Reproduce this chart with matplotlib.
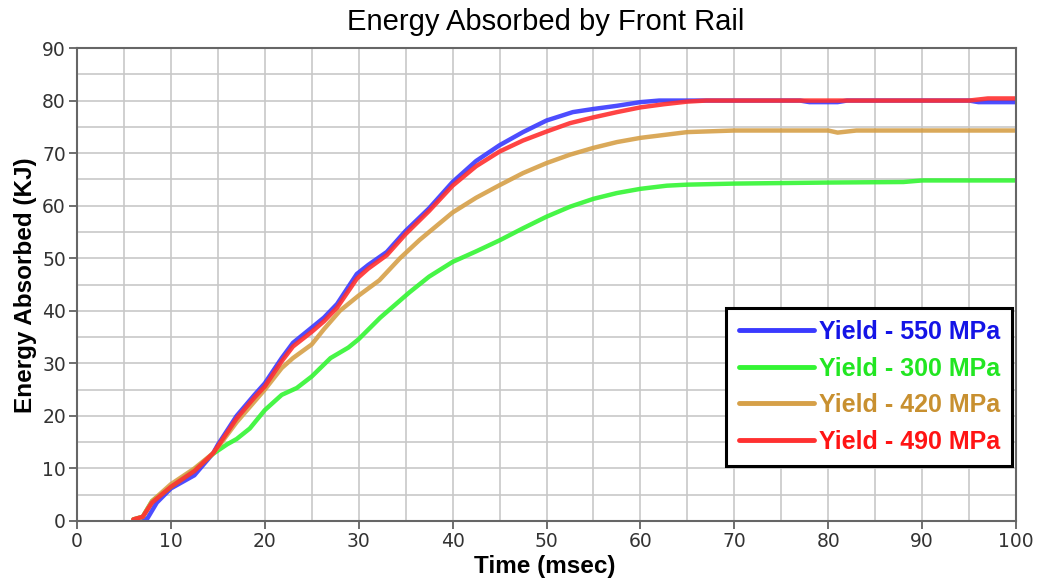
import matplotlib
matplotlib.use("Agg")
import matplotlib.pyplot as plt
from matplotlib.ticker import MultipleLocator

# ---- data ----
t_550 = [7, 7.5, 8.5, 10, 12.5, 14.5, 15, 17, 18.9, 20, 21.8, 23, 25, 26.3, 27.7, 29.8, 31, 33, 35, 37.5, 40, 42.5, 45, 47.5, 50, 52.8, 55, 57.5, 60, 62, 77, 78, 81, 82, 95, 96, 100]
e_550 = [0, 0.5, 3.5, 6.2, 8.7, 12.9, 14.5, 20, 24, 26.2, 31, 33.9, 36.8, 38.7, 41.3, 47, 48.7, 51.2, 55.2, 59.5, 64.5, 68.5, 71.5, 74, 76.2, 77.8, 78.4, 79, 79.7, 80, 80, 79.7, 79.7, 80, 80, 79.7, 79.7]

t_300 = [6, 7, 8, 10, 12.5, 14.5, 16, 17, 18.4, 20, 21.8, 23.4, 25, 27, 28.9, 30, 32.3, 35.4, 37.5, 40, 42.5, 45, 47.5, 50, 52.5, 55, 57.5, 60, 62.8, 65, 70, 80, 88, 90, 100]
e_300 = [0.3, 0.8, 3.8, 6.5, 9.8, 12.8, 14.6, 15.6, 17.6, 21.1, 24, 25.3, 27.5, 31, 33, 34.6, 38.7, 43.5, 46.5, 49.3, 51.3, 53.4, 55.7, 57.9, 59.8, 61.3, 62.4, 63.2, 63.8, 64.0, 64.2, 64.4, 64.5, 64.8, 64.8]

t_420 = [6, 7, 8, 10, 12.5, 14.5, 15, 17, 20, 21.8, 23, 25, 26.3, 28, 30, 32.2, 34.4, 36.5, 40, 42.5, 45, 47.5, 50, 52.5, 55, 57.5, 60, 65, 70, 80, 81, 83, 100]
e_420 = [0.3, 0.8, 3.8, 7, 10, 12.9, 14, 18.8, 25, 29.1, 31, 33.6, 36.5, 40, 42.9, 45.8, 50, 53.5, 58.7, 61.5, 63.9, 66.2, 68.1, 69.7, 71, 72.1, 72.9, 74.0, 74.3, 74.3, 73.9, 74.3, 74.3]

t_490 = [6, 7, 8, 10, 12.5, 14.5, 15, 17, 18.9, 20, 21.8, 23, 25, 26.3, 27.7, 29.8, 31, 33, 35, 37.5, 40, 42.5, 45, 47.5, 50, 52.5, 55, 57.5, 60, 62.5, 65, 67, 95, 97, 100]
e_490 = [0.3, 0.8, 3.5, 6.5, 9.5, 12.9, 14.2, 19.5, 23.5, 25.6, 30.4, 33.2, 36, 38, 40.6, 46.1, 48, 50.6, 54.6, 59, 63.8, 67.5, 70.3, 72.4, 74.1, 75.7, 76.8, 77.8, 78.7, 79.3, 79.8, 80, 80, 80.4, 80.4]

labels = ["Yield - 550 MPa", "Yield - 300 MPa", "Yield - 420 MPa", "Yield - 490 MPa"]
line_colors = ["#3a3aff", "#33f533", "#d6a048", "#ff3030"]
text_colors = ["#1414e6", "#22e622", "#c89030", "#ff1414"]

fig = plt.figure(figsize=(10.45, 5.8), dpi=100)
ax = fig.add_axes([77/1045, 1 - 521/580, (1016-77)/1045, (521-48)/580])

series = [(t_550, e_550), (t_300, e_300), (t_420, e_420), (t_490, e_490)]
handles = []
for (t, e), c, lab in zip(series, line_colors, labels):
    h, = ax.plot(t, e, color=c, lw=3.2, label=lab, solid_capstyle="round",
                 solid_joinstyle="round", alpha=0.9)
    handles.append(h)

ax.set_xlim(0, 100)
ax.set_ylim(0, 90)
ax.xaxis.set_major_locator(MultipleLocator(10))
ax.yaxis.set_major_locator(MultipleLocator(10))
ax.xaxis.set_minor_locator(MultipleLocator(5))
ax.yaxis.set_minor_locator(MultipleLocator(5))
ax.grid(True, which="both", color="#c8c8c8", lw=1.2)
ax.set_axisbelow(True)
ax.tick_params(which="major", direction="out", length=6, width=1.2, color="#555555",
               labelsize=13.5, labelcolor="#333333", pad=2)
ax.tick_params(which="minor", length=0)
for lab in ax.get_xticklabels() + ax.get_yticklabels():
    lab.set_fontfamily("DejaVu Sans")
for s in ["left", "bottom", "top", "right"]:
    ax.spines[s].set_color("#666666")
    ax.spines[s].set_linewidth(1.5)

fig.text(546/1045, 1 - 22/580, "Energy Absorbed by Front Rail", ha="center", va="center",
         fontsize=21, family="Liberation Sans")
fig.text(545/1045, 1 - 566/580, "Time (msec)", ha="center", va="center",
         fontsize=17.5, fontweight="bold", family="Liberation Sans")
fig.text(26/1045, 1 - 285/580, "Energy Absorbed (KJ)", ha="center", va="center", rotation=90,
         fontsize=17.5, fontweight="bold", family="Liberation Sans")

leg = ax.legend(handles=handles, loc="lower right", bbox_to_anchor=(0.996, 0.116),
                frameon=True, fancybox=False, framealpha=1, edgecolor="black",
                prop={"family": "Liberation Sans", "weight": "bold", "size": 18},
                handlelength=3.0, handletextpad=0.2, labelspacing=0.5,
                borderpad=0.5, borderaxespad=0)
leg.get_frame().set_linewidth(2.2)
for txt, c in zip(leg.get_texts(), text_colors):
    txt.set_color(c)
for lh in leg.get_lines():
    lh.set_linewidth(3.5)
    lh.set_alpha(1)

fig.savefig("out.png", dpi=100)
